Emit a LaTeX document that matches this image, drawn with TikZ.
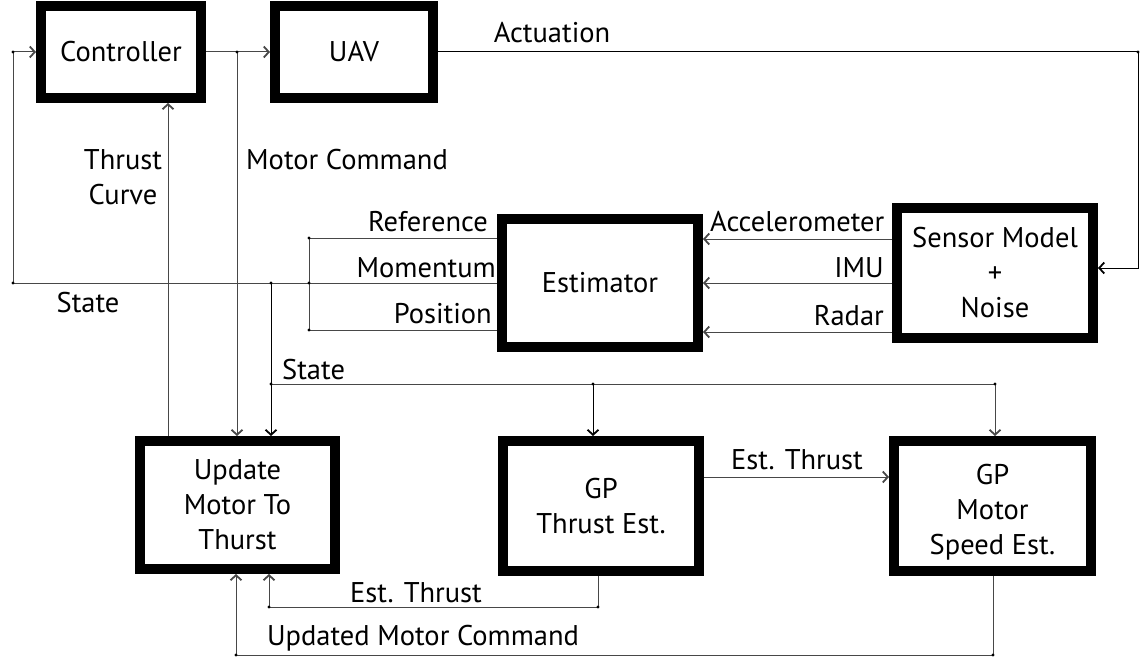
\documentclass[tikz,border=0pt]{standalone}
\usepackage{fontspec}
\setmainfont{PT Sans}
\usetikzlibrary{arrows.meta}
\newcommand\labelsize{\fontsize{28.5}{35}\selectfont}

\begin{document}
\begin{tikzpicture}[x=1pt,y=-1pt,
  blk/.style={draw=black, line width=10pt, fill=white, align=center, inner sep=0pt, font=\labelsize},
  wire/.style={draw=black!72, line width=1pt},
  tip/.style={-{Straight Barb[length=5pt,width=11pt,line width=1.8pt]}},
  lbl/.style={inner sep=0pt, font=\labelsize, align=center},
  jdot/.style={circle, fill=black, inner sep=0pt, minimum size=3.2pt}]

\useasboundingbox (0,0) rectangle (1140,663);

% blocks
\node[blk, minimum width=160pt, minimum height=92pt] (ctrl) at (121,52) {Controller};
\node[blk, minimum width=158pt, minimum height=92pt] (uav) at (354,52) {UAV};
\node[blk, minimum width=196pt, minimum height=128pt] (est) at (600,283) {Estimator};
\node[blk, minimum width=196pt, minimum height=130pt] (sens) at (995,273) {Sensor Model\\+\\Noise};
\node[blk, minimum width=195pt, minimum height=128pt] (upd) at (237.5,505) {Update\\Motor To\\Thurst};
\node[blk, minimum width=196pt, minimum height=130pt] (gpt) at (601,506) {GP\\Thrust Est.};
\node[blk, minimum width=197pt, minimum height=130pt] (gpm) at (992.5,506) {};
\node[lbl] (gpmText) at (992.5,512) {GP\\Motor\\Speed Est.};

% junction and corner points
\coordinate (sL) at (13,283);
\coordinate (sC) at (13,52);
\coordinate (mc) at (237,52);
\coordinate (tc) at (168,0);
\coordinate (st) at (271,283);
\coordinate (sb) at (271,384);
\coordinate (sb1) at (593,384);
\coordinate (sb2) at (995,384);
\coordinate (br1) at (309,238);
\coordinate (br2) at (309,283);
\coordinate (br3) at (309,330);
\coordinate (a1) at (0,239);
\coordinate (a2) at (0,283);
\coordinate (a3) at (0,332);
\coordinate (ac) at (1138,52);
\coordinate (ac2) at (1138,268);
\coordinate (e1) at (0,477);
\coordinate (b1) at (598,607);
\coordinate (b1e) at (269,607);
\coordinate (b2) at (993,655);
\coordinate (b2e) at (236,655);

% state feedback to the controller
\draw[wire] (sL) -- (sL -| est.west);
\draw[wire,tip] (sL) -- (sC) -- (ctrl.west);

% controller to UAV, motor command branch
\draw[wire,tip] (ctrl) -- (uav);
\draw[wire,tip] (mc) -- (mc |- upd.north);

% thrust curve back to the controller
\draw[wire,tip] (upd.north -| tc) -- (ctrl.south -| tc);

% state to the motor update and GP blocks
\draw[wire,draw=black,tip] (st) -- (st |- upd.north);
\draw[wire] (sb) -- (sb2);
\draw[wire,draw=black,tip] (sb1) -- (sb1 |- gpt.north);
\draw[wire,tip] (sb2) -- (sb2 |- gpm.north);

% estimator outputs
\draw[wire] (br1 -| est.west) -- (br1) -- (br3) -- (br3 -| est.west);

% sensor channels
\draw[wire,tip] (a1 -| sens.west) -- (a1 -| est.east);
\draw[wire,tip] (a2 -| sens.west) -- (a2 -| est.east);
\draw[wire,tip] (a3 -| sens.west) -- (a3 -| est.east);

% actuation to the sensor model
\draw[wire,draw=black,tip] (uav.east) -- (ac) -- (ac2) -- (ac2 -| sens.east);

% GP chain
\draw[wire,tip] (e1 -| gpt.east) -- (e1 -| gpm.west);
\draw[wire,tip] (b1 |- gpt.south) -- (b1) -- (b1e) -- (b1e |- upd.south);
\draw[wire,tip] (b2 |- gpm.south) -- (b2) -- (b2e) -- (b2e |- upd.south);

% junction dots
\foreach \p in {sL,sC,mc,st,sb,sb1,sb2,br1,br2,br3,ac,b1,b1e,b2,b2e}
  \node[jdot] at (\p) {};

% labels
\node[lbl] (tActuation) at (552,33) {Actuation};
\node[lbl] (tThrustCurve) at (123,177) {Thrust\\Curve};
\node[lbl, anchor=west] (tMotorCmd) at (246,160) {Motor Command};
\node[lbl, anchor=east] (tRef) at (488,222) {Reference};
\node[lbl, anchor=east] (tMom) at (496,268) {Momentum};
\node[lbl, anchor=east] (tPos) at (492,314) {Position};
\node[lbl, anchor=west] (tAcc) at (710,222) {Accelerometer};
\node[lbl, anchor=east] (tIMU) at (884,268) {IMU};
\node[lbl, anchor=east] (tRadar) at (884,316) {Radar};
\node[lbl] (tState) at (88,303) {State};
\node[lbl, anchor=west] (tState2) at (282,370) {State};
\node[lbl] (tEst1) at (797,460) {Est. Thrust};
\node[lbl] (tEst2) at (416,593) {Est. Thrust};
\node[lbl] (tUpd) at (423,638) {Updated Motor Command};
\end{tikzpicture}
\end{document}
